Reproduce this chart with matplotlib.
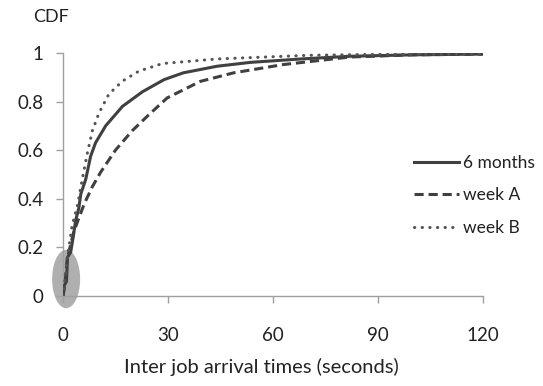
import matplotlib.pyplot as plt
from matplotlib.patches import Ellipse
import numpy as np

plt.rcParams['font.family'] = ['Lato', 'DejaVu Sans']

# inter job arrival times (seconds) vs CDF
x_6m = [0, 0.3, 0.6, 1.0, 1.3, 2.2, 3.0, 3.6, 4.5, 5.1, 6.5, 7.9, 9.3, 12.2, 17, 22.7,
        28.9, 34.4, 44, 53.6, 68, 82, 100, 120]
y_6m = [0, 0.04, 0.05, 0.06, 0.16, 0.18, 0.25, 0.31, 0.36, 0.42, 0.48, 0.575, 0.63, 0.70,
        0.78, 0.84, 0.89, 0.918, 0.945, 0.961, 0.975, 0.986, 0.992, 0.995]

x_wa = [0, 0.5, 1.2, 2.0, 3.0, 4.5, 6.1, 8.4, 10.8, 15, 19.8, 24.5, 29.8, 39.3, 48.8,
        63, 82, 100, 120]
y_wa = [0, 0.04, 0.15, 0.20, 0.26, 0.32, 0.38, 0.45, 0.51, 0.60, 0.68, 0.745, 0.815,
        0.883, 0.918, 0.952, 0.983, 0.992, 0.995]

x_wb = [0, 0.5, 1.2, 2.0, 2.6, 4.1, 5.5, 7.0, 8.4, 10.3, 13.1, 17, 21.7, 28.4, 44,
        70, 90, 120]
y_wb = [0, 0.05, 0.16, 0.23, 0.29, 0.37, 0.48, 0.59, 0.68, 0.753, 0.83, 0.884, 0.925,
        0.956, 0.975, 0.99, 0.994, 0.995]

xticks = [0, 30, 60, 90, 120]
yticks = [0, 0.2, 0.4, 0.6, 0.8, 1]
ytick_labels = ['0', '0.2', '0.4', '0.6', '0.8', '1']

fig = plt.figure(figsize=(5.43, 3.86), dpi=100)
ax = fig.add_axes([0.116, 0.233, 0.773, 0.630])

line_col = '#404040'
ax.add_patch(Ellipse((0.9, 0.07), 8, 0.24, color='#a6a6a6', alpha=0.9, lw=0, zorder=1,
                     clip_on=False))
ax.plot(x_6m, y_6m, color=line_col, lw=2.2, label='6 months', zorder=3)
ax.plot(x_wa, y_wa, color=line_col, lw=2.2, ls=(0, (3, 1.6)), label='week A', zorder=3)
ax.plot(x_wb, y_wb, color='#555555', lw=2.2, ls=(0, (0.1, 2.4)), dash_capstyle='round',
        label='week B', zorder=3)

ax.set_xlim(0, 120)
ax.set_ylim(0, 1)
ax.set_xticks(xticks)
ax.set_yticks(yticks)
ax.set_yticklabels(ytick_labels)

for s in ['top', 'right']:
    ax.spines[s].set_visible(False)
for s in ['left', 'bottom']:
    ax.spines[s].set_color('#a0a0a0')
    ax.spines[s].set_linewidth(1.0)
ax.tick_params(axis='both', colors='#a0a0a0', labelcolor='#222222', labelsize=13.5,
               length=5, width=1.0)
ax.tick_params(axis='x', pad=17)
ax.tick_params(axis='y', pad=9)

ax.set_xlabel('Inter job arrival times (seconds)', fontsize=14.5, color='#222222')
ax.xaxis.set_label_coords(0.473, -0.255)
fig.text(0.061, 0.957, 'CDF', fontsize=13, color='#222222', ha='left', va='center')

leg = ax.legend(loc='upper left', bbox_to_anchor=(0.82, 0.61), frameon=False, fontsize=12.5,
                handlelength=2.6, handletextpad=0.2, labelspacing=0.95, borderaxespad=0)
for t in leg.get_texts():
    t.set_color('#222222')

fig.savefig('out.png', dpi=100)
